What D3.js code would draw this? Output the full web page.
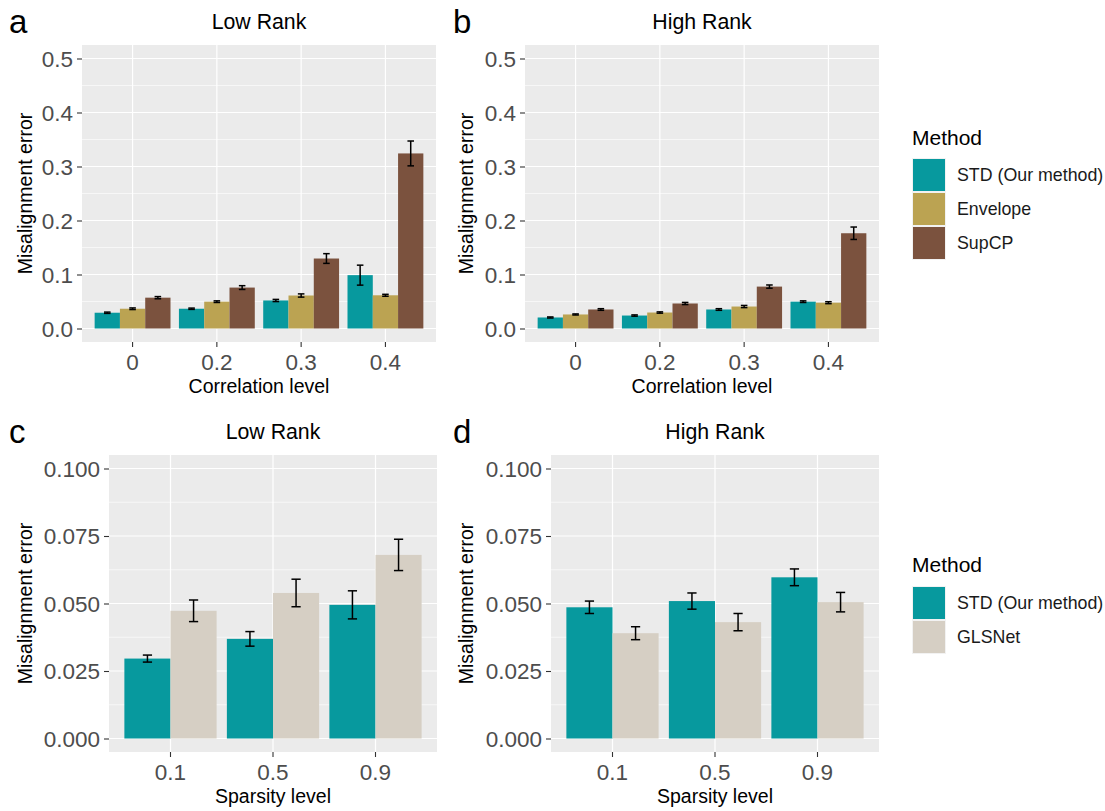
<!DOCTYPE html>
<html>
<head>
<meta charset="utf-8">
<script src="https://cdn.jsdelivr.net/npm/d3@7/dist/d3.min.js"></script>
<style>
  html, body { margin: 0; padding: 0; background: #ffffff; }
  svg { display: block; font-family: "Liberation Sans", Arial, Helvetica, sans-serif; }
</style>
</head>
<body>
<svg id="chart" width="1105" height="811"></svg>
<script>
// ---- Categories ----
const corrLevels = ["0", "0.2", "0.3", "0.4"];
const sparsityLevels = ["0.1", "0.5", "0.9"];
const corrMethods = ["STD (Our method)", "Envelope", "SupCP"];
const sparseMethods = ["STD (Our method)", "GLSNet"];

// ---- Panel a: low rank, by correlation level (mean, half-width of error bar) ----
const lowCorrStd = [0.0292, 0.0366, 0.0519, 0.0988];
const lowCorrStdErr = [0.0012, 0.0012, 0.0020, 0.0185];
const lowCorrEnv = [0.0366, 0.0497, 0.0611, 0.0615];
const lowCorrEnvErr = [0.0015, 0.0015, 0.0030, 0.0018];
const lowCorrSup = [0.0571, 0.0758, 0.1296, 0.3242];
const lowCorrSupErr = [0.0020, 0.0035, 0.0090, 0.0230];

// ---- Panel b: high rank, by correlation level ----
const highCorrStd = [0.0204, 0.0240, 0.0352, 0.0497];
const highCorrStdErr = [0.0010, 0.0012, 0.0015, 0.0015];
const highCorrEnv = [0.0260, 0.0296, 0.0407, 0.0478];
const highCorrEnvErr = [0.0010, 0.0012, 0.0020, 0.0018];
const highCorrSup = [0.0352, 0.0463, 0.0776, 0.1764];
const highCorrSupErr = [0.0015, 0.0020, 0.0030, 0.0115];

// ---- Panel c: low rank, by sparsity level ----
const lowSparseStd = [0.0296, 0.0369, 0.0495];
const lowSparseStdErr = [0.0013, 0.0027, 0.0052];
const lowSparseGls = [0.0473, 0.0539, 0.0680];
const lowSparseGlsErr = [0.0040, 0.0051, 0.0058];

// ---- Panel d: high rank, by sparsity level ----
const highSparseStd = [0.0486, 0.0509, 0.0597];
const highSparseStdErr = [0.0023, 0.0030, 0.0031];
const highSparseGls = [0.0390, 0.0431, 0.0505];
const highSparseGlsErr = [0.0024, 0.0032, 0.0036];

// ---- Axis ticks ----
const corrTicks = [0, 0.1, 0.2, 0.3, 0.4, 0.5];
const corrMinor = [0.05, 0.15, 0.25, 0.35, 0.45];
const sparseTicks = [0, 0.025, 0.05, 0.075, 0.1];
const sparseMinor = [0.0125, 0.0375, 0.0625, 0.0875];

// ---- Fill colours ----
const methodColors = {
  "STD (Our method)": "#07999e",
  "Envelope": "#bba352",
  "SupCP": "#7b523e",
  "GLSNet": "#d6cfc4"
};

const svg = d3.select("#chart");

function buildRows(cats, methods, means, errs) {
  const rows = [];
  cats.forEach((c, i) => {
    methods.forEach((m, j) => {
      rows.push({ cat: c, method: m, value: means[j][i], err: errs[j][i] });
    });
  });
  return rows;
}

function drawPanel(cfg) {
  const g = svg.append("g");
  const { left, right, top, bottom } = cfg.box;

  const x = d3.scaleBand().domain(cfg.cats).range([left, right])
    .paddingInner(0.1).paddingOuter(0.15);
  const xm = d3.scaleBand().domain(cfg.methods).range([0, x.bandwidth()]).padding(0);
  const y = d3.scaleLinear().domain(cfg.yDomain).range([bottom, top]);

  // panel background
  g.append("rect").attr("x", left).attr("y", top)
    .attr("width", right - left).attr("height", bottom - top)
    .attr("fill", "#ebebeb");

  // minor gridlines
  g.selectAll(".minor").data(cfg.minor).enter().append("line")
    .attr("x1", left).attr("x2", right)
    .attr("y1", d => y(d)).attr("y2", d => y(d))
    .attr("stroke", "#ffffff").attr("stroke-width", 0.6);

  // major gridlines
  g.selectAll(".majory").data(cfg.ticks).enter().append("line")
    .attr("x1", left).attr("x2", right)
    .attr("y1", d => y(d)).attr("y2", d => y(d))
    .attr("stroke", "#ffffff").attr("stroke-width", 1.2);
  g.selectAll(".majorx").data(cfg.cats).enter().append("line")
    .attr("x1", d => x(d) + x.bandwidth() / 2).attr("x2", d => x(d) + x.bandwidth() / 2)
    .attr("y1", top).attr("y2", bottom)
    .attr("stroke", "#ffffff").attr("stroke-width", 1.2);

  const rows = buildRows(cfg.cats, cfg.methods, cfg.means, cfg.errs);

  // bars
  g.selectAll(".bar").data(rows).enter().append("rect")
    .attr("x", d => x(d.cat) + xm(d.method))
    .attr("width", xm.bandwidth())
    .attr("y", d => y(d.value))
    .attr("height", d => y(0) - y(d.value))
    .attr("fill", d => methodColors[d.method]);

  // error bars
  const capW = xm.bandwidth() * cfg.capFrac;
  const eb = g.selectAll(".err").data(rows).enter().append("g")
    .attr("stroke", "#000000").attr("stroke-width", 1.5).attr("fill", "none");
  eb.append("line")
    .attr("x1", d => x(d.cat) + xm(d.method) + xm.bandwidth() / 2)
    .attr("x2", d => x(d.cat) + xm(d.method) + xm.bandwidth() / 2)
    .attr("y1", d => y(d.value - d.err)).attr("y2", d => y(d.value + d.err));
  [-1, 1].forEach(s => {
    eb.append("line")
      .attr("x1", d => x(d.cat) + xm(d.method) + xm.bandwidth() / 2 - capW / 2)
      .attr("x2", d => x(d.cat) + xm(d.method) + xm.bandwidth() / 2 + capW / 2)
      .attr("y1", d => y(d.value + s * d.err)).attr("y2", d => y(d.value + s * d.err));
  });

  // y axis
  const yAxis = d3.axisLeft(y).tickValues(cfg.ticks).tickSize(5).tickPadding(4)
    .tickFormat(cfg.fmt);
  const ya = g.append("g").attr("transform", `translate(${left},0)`).call(yAxis);
  ya.select(".domain").remove();
  ya.selectAll(".tick line").attr("stroke", "#333333").attr("stroke-width", 1.1);
  ya.selectAll(".tick text").attr("fill", "#4d4d4d").attr("font-size", 22.5)
    .attr("font-family", "'Liberation Sans', Arial, sans-serif").attr("dy", "0.35em");

  // x axis
  const xAxis = d3.axisBottom(x).tickSize(5).tickPadding(4);
  const xa = g.append("g").attr("transform", `translate(0,${bottom})`).call(xAxis);
  xa.select(".domain").remove();
  xa.selectAll(".tick line").attr("stroke", "#333333").attr("stroke-width", 1.1);
  xa.selectAll(".tick text").attr("fill", "#4d4d4d").attr("font-size", 22.5)
    .attr("font-family", "'Liberation Sans', Arial, sans-serif").attr("dy", "18.5px");

  // axis titles
  g.append("text").attr("x", (left + right) / 2).attr("y", bottom + 51)
    .attr("text-anchor", "middle").attr("font-size", 19.5).attr("fill", "#000")
    .text(cfg.xTitle);
  g.append("text")
    .attr("transform", `translate(${cfg.yTitleX},${(top + bottom) / 2}) rotate(-90)`)
    .attr("text-anchor", "middle").attr("font-size", 19.5).attr("fill", "#000")
    .attr("dy", "0.35em")
    .text("Misalignment error");

  // panel title
  g.append("text").attr("x", (left + right) / 2).attr("y", top - 16)
    .attr("text-anchor", "middle").attr("font-size", 21.3).attr("fill", "#000")
    .text(cfg.title);

  // panel tag
  g.append("text").attr("x", cfg.tagX).attr("y", cfg.tagY)
    .attr("font-size", 33).attr("fill", "#000").text(cfg.tag);
}

function drawLegend(x0, titleY, keyTop, methods) {
  const g = svg.append("g");
  g.append("text").attr("x", x0).attr("y", titleY)
    .attr("font-size", 21).attr("fill", "#000").text("Method");
  const step = 34;
  methods.forEach((m, i) => {
    const yk = keyTop + i * step;
    g.append("rect").attr("x", x0).attr("y", yk).attr("width", 34).attr("height", step)
      .attr("fill", "#f2f2f2");
    g.append("rect").attr("x", x0 + 1).attr("y", yk + 1).attr("width", 32).attr("height", step - 2)
      .attr("fill", methodColors[m]);
    g.append("text").attr("x", x0 + 45).attr("y", yk + step / 2)
      .attr("dy", "0.36em").attr("font-size", 17.8).attr("fill", "#1a1a1a").text(m);
  });
}

const fmtCorr = d => d3.format(".1f")(d);
const fmtSparse = d => d3.format(".3f")(d);

drawPanel({
  box: { left: 82, right: 436, top: 45, bottom: 342 },
  cats: corrLevels, methods: corrMethods,
  means: [lowCorrStd, lowCorrEnv, lowCorrSup],
  errs: [lowCorrStdErr, lowCorrEnvErr, lowCorrSupErr],
  yDomain: [-0.025, 0.525], ticks: corrTicks, minor: corrMinor, fmt: fmtCorr,
  capFrac: 0.26, xTitle: "Correlation level", title: "Low Rank",
  yTitleX: 25, tag: "a", tagX: 9, tagY: 33
});

drawPanel({
  box: { left: 525, right: 879, top: 45, bottom: 342 },
  cats: corrLevels, methods: corrMethods,
  means: [highCorrStd, highCorrEnv, highCorrSup],
  errs: [highCorrStdErr, highCorrEnvErr, highCorrSupErr],
  yDomain: [-0.025, 0.525], ticks: corrTicks, minor: corrMinor, fmt: fmtCorr,
  capFrac: 0.26, xTitle: "Correlation level", title: "High Rank",
  yTitleX: 466, tag: "b", tagX: 453, tagY: 33
});

drawPanel({
  box: { left: 109, right: 437, top: 455, bottom: 752 },
  cats: sparsityLevels, methods: sparseMethods,
  means: [lowSparseStd, lowSparseGls],
  errs: [lowSparseStdErr, lowSparseGlsErr],
  yDomain: [-0.005, 0.105], ticks: sparseTicks, minor: sparseMinor, fmt: fmtSparse,
  capFrac: 0.2, xTitle: "Sparsity level", title: "Low Rank",
  yTitleX: 25, tag: "c", tagX: 9, tagY: 443
});

drawPanel({
  box: { left: 551, right: 879, top: 455, bottom: 752 },
  cats: sparsityLevels, methods: sparseMethods,
  means: [highSparseStd, highSparseGls],
  errs: [highSparseStdErr, highSparseGlsErr],
  yDomain: [-0.005, 0.105], ticks: sparseTicks, minor: sparseMinor, fmt: fmtSparse,
  capFrac: 0.2, xTitle: "Sparsity level", title: "High Rank",
  yTitleX: 466, tag: "d", tagX: 453, tagY: 443
});

drawLegend(912, 145, 158, corrMethods);
drawLegend(912, 572, 586, sparseMethods);
</script>
</body>
</html>
